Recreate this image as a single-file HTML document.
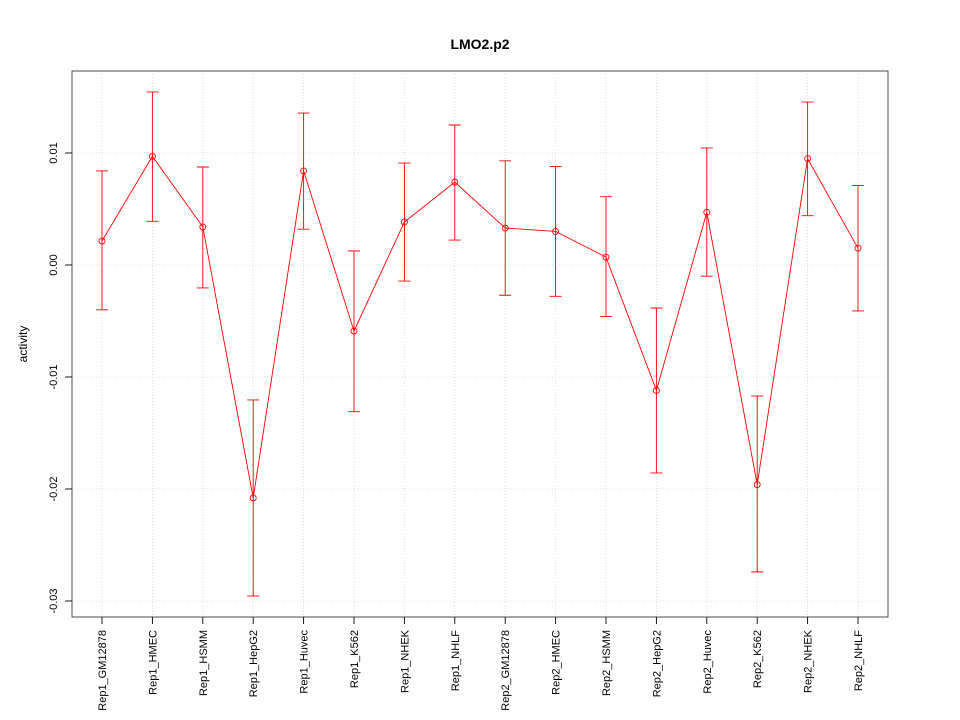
<!DOCTYPE html>
<html><head><meta charset="utf-8"><style>
body{margin:0;background:#fff;}
svg{display:block;font-family:"Liberation Sans",sans-serif;}
</style></head><body>
<svg id="chart" width="960" height="720" xmlns="http://www.w3.org/2000/svg">
<rect width="960" height="720" fill="#fff"/>
<text x="480" y="49" text-anchor="middle" font-size="14" font-weight="bold">LMO2.p2</text>
<text transform="translate(27,344) rotate(-90)" text-anchor="middle" font-size="12">activity</text>
<g id="grid"></g><g id="axes"></g><g id="marks"></g>
<rect x="72" y="71" width="816" height="546" fill="none" stroke="#222" stroke-width="0.8"/>
</svg>
<script>
const categories=["Rep1_GM12878","Rep1_HMEC","Rep1_HSMM","Rep1_HepG2","Rep1_Huvec","Rep1_K562","Rep1_NHEK","Rep1_NHLF","Rep2_GM12878","Rep2_HMEC","Rep2_HSMM","Rep2_HepG2","Rep2_Huvec","Rep2_K562","Rep2_NHEK","Rep2_NHLF"];
const values=[0.00214,0.0097,0.0034,-0.0208,0.0084,-0.0059,0.00384,0.0074,0.0033,0.0030,0.0007,-0.0112,0.0047,-0.0196,0.0095,0.0015];
const upper=[0.0084,0.01545,0.00875,-0.01205,0.01357,0.00125,0.0091,0.0125,0.0093,0.0088,0.0061,-0.00384,0.01045,-0.0117,0.01455,0.0071];
const lower=[-0.0040,0.0039,-0.00205,-0.02955,0.0032,-0.0131,-0.00143,0.00223,-0.0027,-0.0028,-0.0046,-0.01857,-0.001,-0.0274,0.0044,-0.0041];
const yTicks=[0.01,0,-0.01,-0.02,-0.03];
const yTickLabels=["0.01","0.00","-0.01","-0.02","-0.03"];
const NS="http://www.w3.org/2000/svg";
const xs=i=>102+i*(858-102)/(categories.length-1);
const ys=v=>265-v*11200;
function mk(t,a,p){const e=document.createElementNS(NS,t);for(const k in a)e.setAttribute(k,a[k]);p.appendChild(e);return e;}
const grid=document.getElementById('grid'),axes=document.getElementById('axes'),marks=document.getElementById('marks');
categories.forEach((c,i)=>{
 const g=mk('line',{x1:xs(i),x2:xs(i),y1:71,y2:617,stroke:'#d3d3d3','stroke-width':0.8,'stroke-dasharray':'1,2'},grid);
 
 
 const t=mk('line',{x1:xs(i),x2:xs(i),y1:617,y2:624,stroke:'#000','stroke-width':0.9},axes);
 
 
 const l=mk('text',{x:0,y:0,'font-size':11,'text-anchor':'end',transform:`translate(${xs(i)+4},630) rotate(-90)`},axes);
 l.textContent=c;
 
 
});
yTicks.forEach((v,i)=>{
 const g=mk('line',{x1:72,x2:888,y1:ys(v),y2:ys(v),stroke:'#d3d3d3','stroke-width':0.8,'stroke-dasharray':'1,2'},grid);
 
 
 const t=mk('line',{x1:65,x2:72,y1:ys(v),y2:ys(v),stroke:'#000','stroke-width':0.9},axes);
 
 
 const l=mk('text',{x:0,y:0,'font-size':11,'text-anchor':'middle',transform:`translate(57,${ys(v)}) rotate(-90)`},axes);
 l.textContent=yTickLabels[i];
 
 
});
const pl=mk('polyline',{points:values.map((v,i)=>xs(i)+','+ys(v)).join(' '),fill:'none',stroke:'#f00','stroke-width':0.9},marks);


values.forEach((v,i)=>{
 const x=xs(i);
 const eb=mk('path',{d:`M${x},${ys(upper[i])}V${ys(lower[i])}M${x-6},${ys(upper[i])}H${x+6}M${x-6},${ys(lower[i])}H${x+6}`,stroke:'#f00','stroke-width':0.9,fill:'none'},marks);
 
 
 const p=mk('circle',{cx:x,cy:ys(v),r:3,fill:'none',stroke:'#f00','stroke-width':0.9},marks);
 
 
});
</script>
</body></html>
